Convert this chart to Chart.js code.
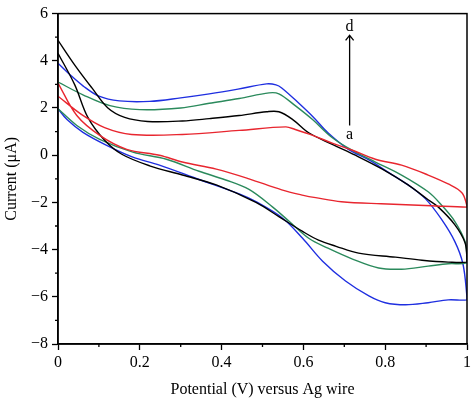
<!DOCTYPE html>
<html>
<head>
<meta charset="utf-8">
<script src="https://cdn.jsdelivr.net/npm/chart.js@4/dist/chart.umd.min.js"></script>
<style>
  html, body { margin: 0; padding: 0; background: #fff; }
  #wrap { width: 474px; height: 399px; }
</style>
</head>
<body>
<div id="wrap"><canvas id="cv"></canvas></div>
<script>
// forward (upper) and reverse (lower) branches, potential in V, current in uA
const redFwdV = [0, 0.058, 0.114, 0.18, 0.304, 0.443, 0.557, 0.58, 0.623, 0.672, 0.72, 0.776, 0.84, 0.905, 0.954, 0.988, 1.0];
const redFwdI = [2.5, 1.72, 1.17, 0.88, 0.88, 1.05, 1.2, 1.09, 0.84, 0.5, 0.21, -0.17, -0.42, -0.84, -1.22, -1.6, -2.15];
const redRevV = [1.0, 0.912, 0.79, 0.693, 0.63, 0.6, 0.547, 0.467, 0.387, 0.304, 0.248, 0.168, 0.102, 0.046, 0];
const redRevI = [-2.2, -2.14, -2.06, -1.97, -1.8, -1.7, -1.47, -1.0, -0.59, -0.29, 0.0, 0.25, 0.84, 1.68, 3.06];

const blackFwdV = [0, 0.041, 0.083, 0.122, 0.163, 0.219, 0.304, 0.37, 0.443, 0.51, 0.54, 0.574, 0.613, 0.672, 0.727, 0.793, 0.856, 0.905, 0.93, 0.97, 0.995, 1.0];
const blackFwdI = [4.87, 3.82, 2.85, 2.0, 1.6, 1.43, 1.45, 1.55, 1.68, 1.84, 1.84, 1.51, 0.95, 0.45, 0.0, -0.59, -1.26, -1.89, -2.2, -2.94, -3.7, -4.4];
const blackRevV = [1.0, 0.954, 0.89, 0.825, 0.735, 0.68, 0.637, 0.598, 0.54, 0.484, 0.387, 0.304, 0.224, 0.156, 0.114, 0.073, 0.041, 0];
const blackRevI = [-4.53, -4.53, -4.45, -4.32, -4.15, -3.86, -3.6, -3.23, -2.6, -2.0, -1.26, -0.84, -0.45, 0.04, 0.63, 1.6, 2.98, 4.32];

const greenFwdV = [0, 0.061, 0.127, 0.2, 0.30, 0.37, 0.443, 0.516, 0.54, 0.58, 0.623, 0.67, 0.72, 0.776, 0.84, 0.905, 0.937, 0.97, 0.995, 1.0];
const greenFwdI = [3.1, 2.56, 2.1, 1.93, 2.0, 2.2, 2.4, 2.64, 2.6, 2.1, 1.5, 0.75, 0.2, -0.29, -0.84, -1.55, -2.1, -2.8, -3.65, -4.3];
const greenRevV = [1.0, 0.954, 0.905, 0.84, 0.784, 0.72, 0.66, 0.613, 0.565, 0.525, 0.467, 0.41, 0.345, 0.265, 0.183, 0.102, 0.046, 0];
const greenRevI = [-4.56, -4.6, -4.7, -4.83, -4.78, -4.4, -3.94, -3.52, -2.8, -2.2, -1.45, -1.05, -0.68, -0.17, 0.13, 0.67, 1.26, 1.97];

const blueFwdV = [0, 0.03, 0.061, 0.10, 0.15, 0.224, 0.30, 0.37, 0.44, 0.51, 0.533, 0.547, 0.589, 0.625, 0.66, 0.71, 0.76, 0.81, 0.856, 0.898, 0.937, 0.97, 0.99, 1.0];
const blueFwdI = [3.9, 3.4, 2.94, 2.5, 2.3, 2.28, 2.43, 2.6, 2.8, 3.02, 2.98, 2.85, 2.2, 1.6, 0.95, 0.25, -0.2, -0.75, -1.26, -1.84, -2.7, -3.65, -4.6, -6.0];
const blueRevV = [1.0, 0.954, 0.905, 0.85, 0.80, 0.76, 0.703, 0.647, 0.598, 0.55, 0.484, 0.443, 0.345, 0.248, 0.183, 0.119, 0.061, 0.022, 0];
const blueRevI = [-6.13, -6.13, -6.25, -6.34, -6.25, -5.96, -5.33, -4.49, -3.52, -2.68, -1.97, -1.64, -1.03, -0.42, -0.08, 0.42, 0.97, 1.51, 1.97];

// arrow a -> d
const arrowV = 0.713;
const arrowFromI = 1.26;
const arrowToI = 5.08;
const labelA = 'a';
const labelAI = 0.88;
const labelD = 'd';
const labelDI = 5.45;

const serif = '"Liberation Serif", "DejaVu Serif", serif';

const loop = function(fv, fi, rv, ri) {
    const pts = fv.map((v, k) => ({ x: v, y: fi[k] }));
    return pts.concat(rv.map((v, k) => ({ x: v, y: ri[k] })));
};

const mkSet = function(data, color) {
    return {
        data: data,
        borderColor: color,
        borderWidth: 1.4,
        showLine: true,
        pointRadius: 0,
        tension: 0.35,
        fill: false
    };
};

const fmtY = v => v < 0 ? '\u2212' + (-v) : String(v);

// minor (odd) ticks are hidden in the library and drawn shorter here
const isMinorX = v => Math.round(v * 10) % 2 !== 0;
const isMinorY = v => Math.round(v) % 2 !== 0;

const framePlugin = {
    id: 'frame',
    afterDraw(chart) {
        const ctx = chart.ctx;
        const a = chart.chartArea;
        const sx = chart.scales.x, sy = chart.scales.y;
        ctx.save();
        ctx.strokeStyle = '#000';
        ctx.lineWidth = 1.5;
        ctx.strokeRect(a.left, a.top, a.right - a.left, a.bottom - a.top);

        // minor ticks
        ctx.lineWidth = 1.3;
        ctx.beginPath();
        sx.ticks.forEach(t => {
            if (!isMinorX(t.value)) return;
            const p = sx.getPixelForValue(t.value);
            ctx.moveTo(p, a.bottom);
            ctx.lineTo(p, a.bottom + 3);
        });
        sy.ticks.forEach(t => {
            if (!isMinorY(t.value)) return;
            const p = sy.getPixelForValue(t.value);
            ctx.moveTo(a.left, p);
            ctx.lineTo(a.left - 3, p);
        });
        ctx.stroke();

        // arrow
        const px = sx.getPixelForValue(arrowV);
        const y0 = sy.getPixelForValue(arrowFromI);
        const y1 = sy.getPixelForValue(arrowToI);
        ctx.beginPath();
        ctx.moveTo(px, y0);
        ctx.lineTo(px, y1);
        ctx.moveTo(px - 4, y1 + 5);
        ctx.lineTo(px, y1);
        ctx.lineTo(px + 4, y1 + 5);
        ctx.stroke();

        ctx.fillStyle = '#000';
        ctx.font = '16px ' + serif;
        ctx.textAlign = 'center';
        ctx.textBaseline = 'middle';
        ctx.fillText(labelD, px, sy.getPixelForValue(labelDI));
        ctx.fillText(labelA, px, sy.getPixelForValue(labelAI));
        ctx.restore();
    }
};

new Chart(document.getElementById('cv'), {
    type: 'scatter',
    data: {
        datasets: [
            mkSet(loop(redFwdV, redFwdI, redRevV, redRevI), '#e8262f'),
            mkSet(loop(blackFwdV, blackFwdI, blackRevV, blackRevI), '#000000'),
            mkSet(loop(greenFwdV, greenFwdI, greenRevV, greenRevI), '#2b8a5c'),
            mkSet(loop(blueFwdV, blueFwdI, blueRevV, blueRevI), '#1f2fe0')
        ]
    },
    options: {
        responsive: true,
        maintainAspectRatio: false,
        animation: false,
        layout: { padding: { top: 10, right: 5, left: 0, bottom: 0 } },
        plugins: {
            legend: { display: false },
            tooltip: { enabled: false }
        },
        scales: {
            x: {
                type: 'linear',
                min: 0,
                max: 1,
                afterFit: s => { s.height = 55; },
                ticks: {
                    stepSize: 0.1,
                    color: '#000',
                    padding: 3,
                    maxRotation: 0,
                    autoSkip: false,
                    font: { family: serif, size: 16 },
                    callback: v => {
                        const k = Math.round(v * 10);
                        if (k % 2) return '';
                        return k === 0 ? '0' : (k === 10 ? '1' : (k / 10).toFixed(1));
                    }
                },
                grid: {
                    drawOnChartArea: false,
                    tickLength: 6,
                    tickWidth: 1.3,
                    tickColor: c => (c.tick && isMinorX(c.tick.value) ? 'rgba(0,0,0,0)' : '#000')
                },
                border: { display: true, color: '#000', width: 1.5 },
                title: {
                    display: true,
                    text: 'Potential (V) versus Ag wire',
                    color: '#000',
                    font: { family: serif, size: 16 },
                    padding: { top: 4, bottom: 0 }
                }
            },
            y: {
                type: 'linear',
                min: -8,
                max: 6,
                afterFit: s => { s.width = 58; },
                ticks: {
                    stepSize: 1,
                    color: '#000',
                    padding: 4,
                    autoSkip: false,
                    font: { family: serif, size: 16 },
                    callback: v => (isMinorY(v) ? '' : fmtY(v))
                },
                grid: {
                    drawOnChartArea: false,
                    tickLength: 6,
                    tickWidth: 1.3,
                    tickColor: c => (c.tick && isMinorY(c.tick.value) ? 'rgba(0,0,0,0)' : '#000')
                },
                border: { display: true, color: '#000', width: 1.5 },
                title: {
                    display: true,
                    text: 'Current (\u03bcA)',
                    color: '#000',
                    font: { family: serif, size: 16 },
                    padding: { top: 2, bottom: 0 }
                }
            }
        }
    },
    plugins: [framePlugin]
});
</script>
</body>
</html>
